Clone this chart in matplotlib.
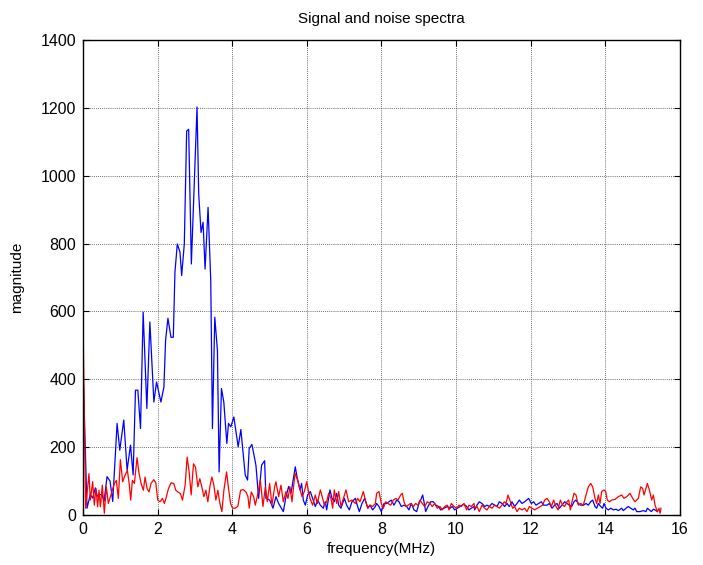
import matplotlib
matplotlib.use("Agg")
import matplotlib.pyplot as plt
import numpy as np

plt.rcParams["font.family"] = ["Liberation Sans", "DejaVu Sans"]

# signal spectrum (blue)
signal_freq = [
    0.000, 0.108, 0.197, 0.260, 0.332, 0.386, 0.439, 0.511, 0.565, 0.646,
    0.726, 0.798, 0.915, 0.987, 1.094, 1.184, 1.274, 1.345, 1.408, 1.471,
    1.543, 1.614, 1.713, 1.794, 1.901, 1.973, 2.090, 2.170, 2.215, 2.278,
    2.359, 2.422, 2.466, 2.529, 2.601, 2.646, 2.717, 2.780, 2.834, 2.906,
    3.058, 3.103, 3.166, 3.220, 3.274, 3.354, 3.426, 3.471, 3.534, 3.605,
    3.650, 3.713, 3.776, 3.857, 3.901, 3.964, 4.045, 4.161, 4.233, 4.350,
    4.413, 4.457, 4.529, 4.637, 4.709, 4.789, 4.870, 4.906, 5.005, 5.094,
    5.174, 5.246, 5.371, 5.443, 5.514, 5.577, 5.692, 5.737, 5.818, 5.862,
    5.907, 5.961, 6.023, 6.095, 6.157, 6.229, 6.292, 6.363, 6.443, 6.497,
    6.533, 6.622, 6.676, 6.738, 6.801, 6.855, 6.917, 7.007, 7.069, 7.141,
    7.212, 7.302, 7.364, 7.409, 7.480, 7.552, 7.641, 7.695, 7.767, 7.838,
    7.873, 7.936, 7.998, 8.070, 8.141, 8.204, 8.266, 8.338, 8.410, 8.472,
    8.535, 8.606, 8.678, 8.740, 8.803, 8.874, 8.946, 9.008, 9.053, 9.107,
    9.142, 9.187, 9.249, 9.321, 9.392, 9.464, 9.535, 9.589, 9.678, 9.768,
    9.839, 9.902, 9.964, 10.036, 10.107, 10.170, 10.214, 10.286, 10.348, 10.411,
    10.483, 10.501, 10.563, 10.625, 10.697, 10.769, 10.831, 10.894, 10.965, 11.037,
    11.099, 11.162, 11.233, 11.305, 11.367, 11.430, 11.501, 11.573, 11.635, 11.698,
    11.769, 11.841, 11.948, 12.020, 12.082, 12.145, 12.216, 12.288, 12.350, 12.440,
    12.502, 12.574, 12.645, 12.708, 12.770, 12.842, 12.913, 12.976, 13.038, 13.101,
    13.164, 13.217, 13.280, 13.342, 13.414, 13.486, 13.548, 13.611, 13.664, 13.727,
    13.771, 13.816, 13.879, 13.932, 13.968, 14.022, 14.084, 14.147, 14.218, 14.290,
    14.353, 14.442, 14.486, 14.558, 14.620, 14.683, 14.755, 14.799, 14.844, 14.933,
    15.023, 15.094, 15.130, 15.184, 15.237, 15.291, 15.336, 15.398,
]
signal_mag = [
    433, 20, 60, 50, 80, 55, 60, 60, 40, 113,
    100, 40, 270, 191, 280, 132, 206, 118, 368, 368,
    255, 598, 314, 569, 333, 392, 333, 377, 515, 580,
    524, 524, 716, 799, 775, 706, 799, 1132, 1137, 740,
    1203, 946, 833, 863, 725, 907, 691, 255, 583, 485,
    127, 373, 333, 211, 270, 260, 289, 201, 252, 118,
    103, 196, 208, 147, 49, 147, 160, 49, 44, 20,
    54, 34, 10, 54, 84, 64, 142, 113, 74, 93,
    44, 29, 59, 69, 49, 25, 44, 29, 20, 39,
    15, 74, 49, 39, 64, 29, 20, 49, 29, 15,
    39, 49, 25, 10, 34, 49, 20, 29, 15, 25,
    34, 25, 10, 34, 34, 39, 44, 29, 44, 39,
    25, 29, 25, 15, 34, 15, 10, 34, 44, 59,
    39, 10, 25, 39, 39, 29, 25, 15, 20, 25,
    20, 25, 15, 20, 25, 29, 32, 25, 15, 20,
    25, 15, 29, 39, 34, 25, 29, 25, 34, 29,
    25, 39, 34, 25, 34, 25, 39, 25, 34, 44,
    34, 39, 49, 34, 39, 29, 34, 39, 29, 29,
    34, 20, 29, 34, 20, 29, 39, 34, 29, 25,
    39, 44, 34, 29, 29, 34, 29, 39, 44, 25,
    20, 34, 25, 20, 34, 20, 15, 20, 15, 17,
    13, 20, 13, 20, 25, 20, 15, 20, 10, 10,
    13, 10, 20, 15, 10, 17, 15, 10,
]

# noise spectrum (red)
noise_freq = [
    0.000, 0.072, 0.161, 0.197, 0.260, 0.304, 0.349, 0.394, 0.430, 0.466,
    0.519, 0.573, 0.627, 0.680, 0.734, 0.788, 0.842, 0.895, 0.949, 1.003,
    1.065, 1.128, 1.191, 1.244, 1.280, 1.325, 1.379, 1.450, 1.504, 1.558,
    1.620, 1.665, 1.719, 1.773, 1.826, 1.898, 1.952, 2.005, 2.068, 2.131,
    2.184, 2.238, 2.292, 2.363, 2.435, 2.489, 2.543, 2.614, 2.668, 2.739,
    2.793, 2.847, 2.901, 2.963, 3.017, 3.080, 3.133, 3.187, 3.241, 3.295,
    3.348, 3.402, 3.456, 3.509, 3.563, 3.617, 3.671, 3.724, 3.778, 3.850,
    3.903, 3.957, 4.011, 4.082, 4.154, 4.226, 4.297, 4.369, 4.423, 4.458,
    4.512, 4.575, 4.620, 4.692, 4.755, 4.826, 4.889, 4.942, 5.005, 5.067,
    5.139, 5.174, 5.246, 5.308, 5.371, 5.443, 5.496, 5.550, 5.604, 5.684,
    5.756, 5.800, 5.872, 5.934, 5.997, 6.041, 6.086, 6.157, 6.229, 6.283,
    6.363, 6.426, 6.471, 6.533, 6.587, 6.649, 6.694, 6.738, 6.801, 6.855,
    6.917, 7.051, 7.123, 7.212, 7.302, 7.364, 7.427, 7.516, 7.570, 7.632,
    7.695, 7.767, 7.838, 7.873, 7.936, 7.998, 8.052, 8.115, 8.177, 8.249,
    8.320, 8.392, 8.445, 8.517, 8.562, 8.606, 8.660, 8.722, 8.785, 8.857,
    8.919, 8.981, 9.035, 9.097, 9.160, 9.231, 9.303, 9.365, 9.428, 9.499,
    9.571, 9.633, 9.696, 9.768, 9.812, 9.875, 9.946, 10.018, 10.080, 10.142,
    10.214, 10.286, 10.348, 10.411, 10.483, 10.501, 10.563, 10.625, 10.697, 10.769,
    10.831, 10.894, 10.965, 11.037, 11.099, 11.162, 11.233, 11.296, 11.341, 11.394,
    11.457, 11.519, 11.573, 11.635, 11.698, 11.769, 11.841, 11.903, 11.966, 12.037,
    12.109, 12.181, 12.261, 12.324, 12.377, 12.440, 12.502, 12.556, 12.618, 12.681,
    12.735, 12.797, 12.860, 12.913, 12.976, 13.021, 13.065, 13.110, 13.164, 13.217,
    13.280, 13.342, 13.414, 13.486, 13.548, 13.611, 13.664, 13.727, 13.771, 13.816,
    13.861, 13.905, 13.968, 14.013, 14.057, 14.111, 14.174, 14.263, 14.353, 14.442,
    14.504, 14.576, 14.665, 14.737, 14.799, 14.844, 14.889, 14.951, 15.005, 15.041,
    15.130, 15.184, 15.246, 15.291, 15.336, 15.398, 15.443, 15.469, 15.496,
]
noise_mag = [
    586, 20, 122, 44, 98, 29, 78, 24, 73, 24,
    88, 5, 83, 34, 54, 73, 93, 102, 49, 163,
    98, 117, 132, 88, 44, 102, 93, 169, 122, 93,
    73, 112, 78, 68, 93, 104, 95, 44, 39, 49,
    34, 54, 78, 95, 93, 73, 68, 63, 44, 88,
    171, 127, 59, 151, 141, 83, 107, 83, 54, 73,
    39, 83, 112, 88, 44, 73, 34, 10, 73, 127,
    78, 34, 20, 20, 26, 73, 75, 68, 54, 20,
    68, 54, 29, 64, 103, 25, 83, 39, 93, 29,
    83, 98, 54, 88, 39, 69, 49, 83, 39, 123,
    103, 83, 54, 69, 98, 74, 49, 29, 59, 34,
    74, 49, 29, 39, 64, 49, 20, 74, 34, 69,
    25, 74, 39, 44, 34, 49, 39, 69, 44, 20,
    29, 25, 34, 64, 69, 34, 20, 39, 34, 29,
    44, 49, 44, 59, 64, 39, 25, 29, 34, 25,
    34, 29, 44, 34, 25, 39, 34, 25, 34, 20,
    25, 15, 25, 29, 15, 34, 25, 20, 29, 25,
    34, 15, 29, 25, 34, 20, 25, 10, 29, 20,
    15, 25, 20, 29, 25, 20, 29, 39, 34, 59,
    39, 20, 25, 10, 20, 15, 20, 10, 25, 20,
    15, 20, 25, 29, 44, 49, 39, 25, 44, 25,
    15, 44, 29, 25, 39, 44, 15, 39, 64, 59,
    29, 34, 29, 59, 83, 93, 83, 49, 34, 59,
    34, 69, 74, 69, 44, 39, 44, 46, 54, 59,
    49, 54, 64, 49, 39, 44, 49, 83, 78, 59,
    93, 74, 44, 59, 29, 10, 20, 5, 20,
]

x_ticks = [0, 2, 4, 6, 8, 10, 12, 14, 16]
y_ticks = [0, 200, 400, 600, 800, 1000, 1200, 1400]

fig = plt.figure(figsize=(7.03, 5.65), dpi=100)
ax = fig.add_axes([0.118, 0.0885, 0.849, 0.8405])

ax.plot(signal_freq, signal_mag, color="#0000ff", linewidth=0.9)
ax.plot(noise_freq, noise_mag, color="#ff0000", linewidth=0.9)

ax.set_xlim(0, 16)
ax.set_ylim(0, 1400)
ax.set_xticks(x_ticks)
ax.set_yticks(y_ticks)
ax.tick_params(direction="in", top=True, right=True, length=4, labelsize=11.5,
               width=0.8, pad=5)
ax.grid(True, color="black", linestyle=(0, (1, 1.5)), linewidth=0.6, alpha=0.75)
for spine in ax.spines.values():
    spine.set_linewidth(1.0)

ax.set_title("Signal and noise spectra", fontsize=11, pad=12)
ax.set_xlabel("frequency(MHz)", fontsize=11, labelpad=4)
ax.set_ylabel("magnitude", fontsize=11, labelpad=12)

fig.savefig("out.png", dpi=100)
